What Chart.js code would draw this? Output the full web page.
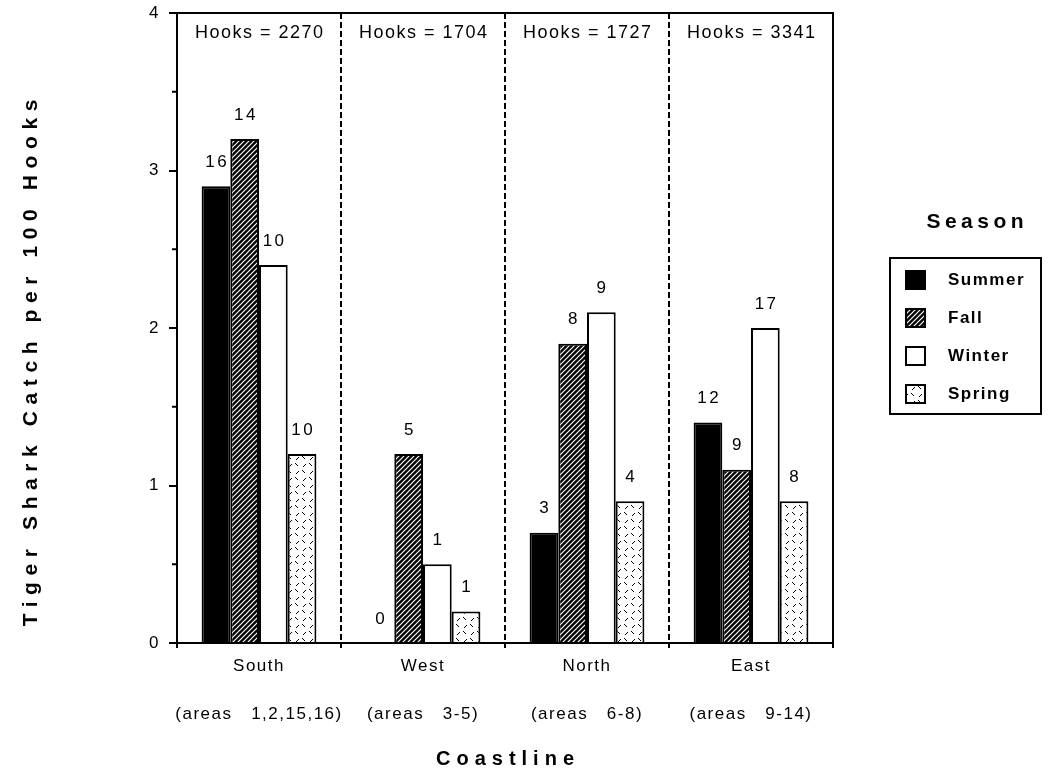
<!DOCTYPE html>
<html>
<head>
<meta charset="utf-8">
<script src="https://cdn.jsdelivr.net/npm/chart.js@4.4.1/dist/chart.umd.min.js"></script>
<style>
html,body{margin:0;padding:0;background:#fff;}
#wrap{width:1056px;height:773px;}
</style>
</head>
<body>
<div id="wrap"><canvas id="chart" width="1056" height="773"></canvas></div>
<script>
// --- data ---
const coasts = ['South', 'West', 'North', 'East'];
const areas = ['(areas   1,2,15,16)', '(areas   3-5)', '(areas   6-8)', '(areas   9-14)'];
const hooks = [2270, 1704, 1727, 3341];
const seasons = ['Summer', 'Fall', 'Winter', 'Spring'];
const summer = [2.9, 0, 0.7, 1.4];
const fall = [3.2, 1.2, 1.9, 1.1];
const winter = [2.4, 0.5, 2.1, 2.0];
const spring = [1.2, 0.2, 0.9, 0.9];
const summerN = [16, 0, 3, 12];
const fallN = [14, 5, 8, 9];
const winterN = [10, 1, 9, 17];
const springN = [10, 1, 4, 8];
const yTicks = [0, 1, 2, 3, 4];

const FONT = "'Liberation Sans', Arial, Helvetica, sans-serif";

// hatch patterns
function hatch(){
    const c = document.createElement('canvas');
    c.width = c.height = 5;
    const g = c.getContext('2d');
    g.fillStyle = '#000'; g.fillRect(0, 0, 5, 5);
    g.strokeStyle = '#fff'; g.lineWidth = 1.2;
    g.beginPath();
    g.moveTo(0, 5); g.lineTo(5, 0);
    g.moveTo(-1, 1); g.lineTo(1, -1);
    g.moveTo(4, 6); g.lineTo(6, 4);
    g.stroke();
    return g.createPattern(c, 'repeat');
}
function speckle(){
    const c = document.createElement('canvas');
    c.width = c.height = 14;
    const g = c.getContext('2d');
    g.fillStyle = '#fff'; g.fillRect(0, 0, 14, 14);
    g.strokeStyle = '#000'; g.lineWidth = 1;
    g.beginPath();
    g.moveTo(1, 1); g.lineTo(4, 4);
    g.moveTo(9, 5); g.lineTo(12, 2);
    g.moveTo(2, 12); g.lineTo(5, 9);
    g.moveTo(8, 8); g.lineTo(11, 11);
    g.stroke();
    return g.createPattern(c, 'repeat');
}

const fills = ['#000', hatch(), '#fff', speckle()];
const values = [summer, fall, winter, spring];
const counts = [summerN, fallN, winterN, springN];

const datasets = seasons.map((s, i) => ({
    label: s,
    data: values[i],
    counts: counts[i],
    backgroundColor: fills[i],
    borderColor: '#000',
    borderWidth: 2,
    categoryPercentage: 0.7,
    barPercentage: 1.0
}));

function spacedText(ctx, txt, x, y, sp){
    ctx.letterSpacing = sp + 'px';
    ctx.fillText(txt, ctx.textAlign === 'center' ? x + sp / 2 : x, y);
}

const decor = {
    id: 'decor',
    beforeDraw(chart){
        chart.ctx.letterSpacing = '1.5px';
    },
    afterDraw(chart){
        const ctx = chart.ctx;
        const a = chart.chartArea;
        const xs = chart.scales.x;
        const ys = chart.scales.y;
        ctx.save();
        ctx.letterSpacing = '0px';
        ctx.strokeStyle = '#000';
        ctx.lineWidth = 2;
        ctx.setLineDash([]);
        ctx.strokeRect(a.left, a.top, a.right - a.left, a.bottom - a.top);

        // minor y ticks (half units)
        ctx.beginPath();
        for (let k = 0; k < yTicks.length - 1; k++) {
            const py = ys.getPixelForValue((yTicks[k] + yTicks[k + 1]) / 2);
            ctx.moveTo(a.left - 5, py);
            ctx.lineTo(a.left, py);
        }
        ctx.stroke();

        ctx.fillStyle = '#000';
        ctx.textAlign = 'center';
        ctx.textBaseline = 'middle';

        // counts above the bars
        ctx.font = '17px ' + FONT;
        chart.data.datasets.forEach((ds, i) => {
            chart.getDatasetMeta(i).data.forEach((bar, j) => {
                spacedText(ctx, String(ds.counts[j]), bar.x, bar.y - 24, 2.5);
            });
        });

        // hooks per coastline
        ctx.font = '18px ' + FONT;
        hooks.forEach((h, j) => {
            spacedText(ctx, 'Hooks = ' + h, xs.getPixelForValue(j), a.top + 20, 1.5);
        });

        // axis titles
        ctx.font = 'bold 20px ' + FONT;
        spacedText(ctx, 'Coastline', (a.left + a.right) / 2, 759, 6);
        ctx.save();
        ctx.translate(31, 363);
        ctx.rotate(-Math.PI / 2);
        ctx.font = 'bold 21px ' + FONT;
        spacedText(ctx, 'Tiger Shark Catch per 100 Hooks', 0, 0, 6.6);
        ctx.restore();

        // legend
        ctx.font = 'bold 21px ' + FONT;
        spacedText(ctx, 'Season', 975, 222, 4.5);
        ctx.strokeRect(890, 258, 151, 156);
        ctx.textAlign = 'left';
        ctx.font = 'bold 17px ' + FONT;
        chart.data.datasets.forEach((ds, i) => {
            const cy = 280 + i * 38;
            ctx.fillStyle = ds.backgroundColor;
            ctx.fillRect(906, cy - 9, 19, 18);
            ctx.lineWidth = 2;
            ctx.strokeRect(906, cy - 9, 19, 18);
            ctx.fillStyle = '#000';
            spacedText(ctx, ds.label, 948, cy, 1.5);
        });
        ctx.restore();
        ctx.letterSpacing = '0px';
    }
};

new Chart(document.getElementById('chart').getContext('2d'), {
    type: 'bar',
    data: { labels: coasts, datasets: datasets },
    plugins: [decor],
    options: {
        responsive: false,
        animation: false,
        layout: { padding: { left: 0, right: 223, top: 13, bottom: 0 } },
        plugins: { legend: { display: false }, tooltip: { enabled: false } },
        scales: {
            x: {
                grid: { offset: true, drawOnChartArea: true, color: '#000', lineWidth: 2, tickLength: 5, tickColor: '#000', tickWidth: 2 },
                border: { display: true, color: '#000', width: 2, dash: [6, 3] },
                ticks: {
                    color: '#000', padding: 6, maxRotation: 0, autoSkip: false,
                    font: { family: FONT, size: 17, lineHeight: 1.42 },
                    callback: (v, i) => [coasts[i], '', areas[i]]
                },
                afterFit: s => { s.height = 130; s.paddingLeft = 0; s.paddingRight = 0; }
            },
            y: {
                min: yTicks[0], max: yTicks[yTicks.length - 1],
                grid: { drawOnChartArea: false, color: '#000', lineWidth: 2, tickLength: 8 },
                border: { color: '#000', width: 2 },
                ticks: {
                    stepSize: 1, color: '#000', padding: 9,
                    font: { family: FONT, size: 17 },
                    callback: v => yTicks.includes(v) ? String(v) : ''
                },
                afterFit: s => { s.width = 177; s.paddingTop = 0; s.paddingBottom = 0; }
            }
        }
    }
});
</script>
</body>
</html>
